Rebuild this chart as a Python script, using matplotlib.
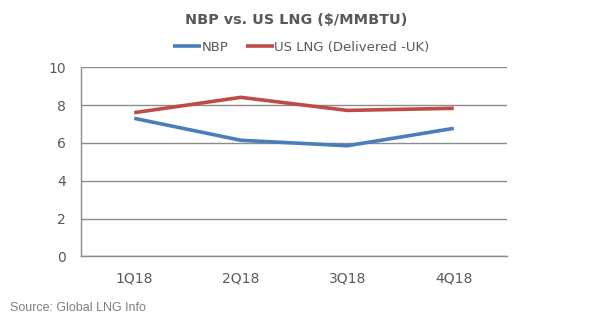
import matplotlib.pyplot as plt

quarters = ["1Q18", "2Q18", "3Q18", "4Q18"]
nbp = [7.30, 6.14, 5.85, 6.77]
us_lng = [7.60, 8.41, 7.72, 7.83]
yticks = [0, 2, 4, 6, 8, 10]

text_col = "#595959"
grid_col = "#8c8c8c"

fig = plt.figure(figsize=(6, 3.22), dpi=100)
ax = fig.add_axes([0.135, 0.204, 0.71, 0.587])

x = list(range(len(quarters)))
ax.plot(x, nbp, color="#4a7ebb", lw=2.6, label="NBP", solid_capstyle="butt")
ax.plot(x, us_lng, color="#be4b48", lw=2.6, label="US LNG (Delivered -UK)", solid_capstyle="butt")

ax.set_xlim(-0.5, len(quarters) - 0.5)
ax.set_ylim(0, 10)
ax.set_yticks(yticks)
ax.set_xticks(x)
ax.set_xticklabels(quarters)
ax.yaxis.grid(True, color=grid_col, lw=1)
ax.set_axisbelow(True)
for s in ["top", "right"]:
    ax.spines[s].set_visible(False)
for s in ["left", "bottom"]:
    ax.spines[s].set_color(grid_col)
    ax.spines[s].set_linewidth(1)
ax.tick_params(length=0, labelsize=10, colors=text_col, pad=11)
ax.tick_params(axis="y", pad=11)

fig.text(0.493, 0.938, "NBP vs. US LNG ($/MMBTU)", ha="center", va="center",
         fontsize=10.4, fontweight="bold", color=text_col)
fig.legend(loc="center", bbox_to_anchor=(0.5025, 0.854), ncol=2, frameon=False,
           fontsize=9.5, labelcolor=text_col, handlelength=2.1, handletextpad=0.05,
           columnspacing=1.3, borderpad=0, borderaxespad=0)

fig.text(0.017, 0.043, "Source: Global LNG Info", fontsize=9, color="#7f7f7f",
         family="Liberation Sans", va="center")

fig.savefig("out.png", dpi=100, facecolor="white")
